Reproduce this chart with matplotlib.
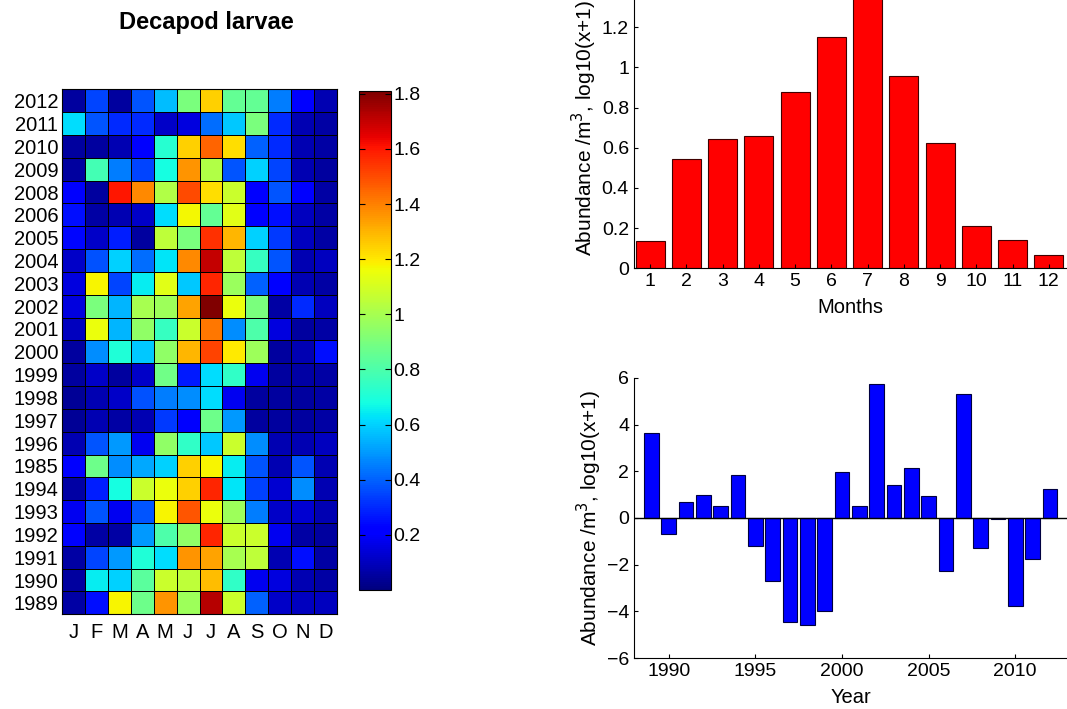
import numpy as np
import matplotlib.pyplot as plt
from matplotlib.ticker import FuncFormatter

plt.rcParams['font.family'] = ['Liberation Sans', 'DejaVu Sans']

# heatmap rows, top to bottom (labels kept as printed, incl. "1985")
years = ['2012', '2011', '2010', '2009', '2008', '2006', '2005', '2004', '2003',
         '2002', '2001', '2000', '1999', '1998', '1997', '1996', '1985', '1994',
         '1993', '1992', '1991', '1990', '1989']
month_letters = ['J', 'F', 'M', 'A', 'M', 'J', 'J', 'A', 'S', 'O', 'N', 'D']

abund = np.array([
    [0.05, 0.35, 0.05, 0.38, 0.56, 0.90, 1.25, 0.85, 0.85, 0.45, 0.22, 0.08],  # 2012
    [0.62, 0.38, 0.30, 0.30, 0.12, 0.15, 0.42, 0.58, 0.90, 0.30, 0.08, 0.06],  # 2011
    [0.05, 0.05, 0.08, 0.22, 0.72, 1.25, 1.45, 1.22, 0.40, 0.30, 0.08, 0.06],  # 2010
    [0.05, 0.78, 0.45, 0.35, 0.68, 1.36, 1.02, 0.38, 0.60, 0.35, 0.08, 0.05],  # 2009
    [0.22, 0.05, 1.60, 1.38, 1.02, 1.50, 1.22, 1.08, 0.22, 0.38, 0.22, 0.06],  # 2008
    [0.25, 0.06, 0.08, 0.12, 0.62, 1.17, 0.85, 1.13, 0.22, 0.25, 0.10, 0.06],  # 2006
    [0.24, 0.12, 0.28, 0.05, 1.05, 0.90, 1.55, 1.30, 0.60, 0.33, 0.10, 0.06],  # 2005
    [0.12, 0.37, 0.60, 0.42, 0.63, 1.38, 1.70, 1.05, 0.75, 0.38, 0.08, 0.10],  # 2004
    [0.15, 1.18, 0.35, 0.65, 1.13, 0.58, 1.57, 0.97, 0.40, 0.20, 0.08, 0.06],  # 2003
    [0.15, 0.90, 0.55, 1.00, 0.98, 1.33, 1.81, 1.15, 0.90, 0.06, 0.30, 0.10],  # 2002
    [0.10, 1.15, 0.55, 0.95, 0.75, 1.08, 1.42, 0.48, 0.80, 0.15, 0.05, 0.06],  # 2001
    [0.05, 0.48, 0.70, 0.58, 0.95, 1.30, 1.52, 1.20, 0.98, 0.05, 0.08, 0.25],  # 2000
    [0.05, 0.12, 0.05, 0.12, 0.88, 0.27, 0.62, 0.74, 0.18, 0.05, 0.06, 0.06],  # 1999
    [0.04, 0.08, 0.12, 0.37, 0.45, 0.48, 0.62, 0.18, 0.05, 0.05, 0.05, 0.06],  # 1998
    [0.04, 0.08, 0.06, 0.08, 0.33, 0.22, 0.87, 0.50, 0.05, 0.05, 0.05, 0.06],  # 1997
    [0.08, 0.38, 0.50, 0.18, 0.95, 0.74, 0.58, 1.08, 0.48, 0.08, 0.08, 0.10],  # 1996
    [0.22, 0.87, 0.48, 0.53, 0.60, 1.25, 1.18, 0.65, 0.38, 0.08, 0.38, 0.08],  # 1985
    [0.06, 0.28, 0.68, 1.08, 1.15, 1.25, 1.57, 0.63, 0.34, 0.13, 0.48, 0.08],  # 1994
    [0.18, 0.38, 0.18, 0.38, 1.18, 1.48, 1.15, 0.98, 0.45, 0.12, 0.13, 0.08],  # 1993
    [0.23, 0.06, 0.06, 0.50, 0.80, 0.95, 1.57, 1.08, 1.08, 0.18, 0.06, 0.05],  # 1992
    [0.06, 0.35, 0.50, 0.70, 0.62, 1.36, 1.33, 1.00, 1.05, 0.08, 0.25, 0.06],  # 1991
    [0.05, 0.65, 0.60, 0.83, 1.08, 1.05, 1.28, 0.74, 0.18, 0.15, 0.08, 0.06],  # 1990
    [0.06, 0.25, 1.18, 0.87, 1.36, 0.98, 1.72, 1.08, 0.40, 0.12, 0.10, 0.10],  # 1989
])

# monthly mean bar chart
months = np.arange(1, 13)
month_mean = [0.136, 0.543, 0.646, 0.657, 0.88, 1.153, 1.38, 0.958, 0.622, 0.211, 0.143, 0.066]

# yearly anomaly bar chart
anom_years = np.arange(1989, 2013)
anomaly = [3.65, -0.7, 0.68, 0.98, 0.5, 1.85, -1.2, -2.68, -4.45, -4.6, -4.0, 1.95,
           0.5, 5.75, 1.4, 2.15, 0.93, -2.28, 5.3, -1.3, -0.05, -3.75, -1.75, 1.25]

fs = 14
ylab = 'Abundance /m$^3$, log10(x+1)'

fig = plt.figure(figsize=(10.67, 7.09), dpi=100)
gfmt = FuncFormatter(lambda v, p: '%g' % round(v, 2))

# --- heatmap ---
ax = fig.add_axes([0.0584, 0.1336, 0.2572, 0.7404])
mesh = ax.pcolormesh(abund, cmap='jet', vmin=0.0, vmax=1.81,
                     edgecolors='k', linewidth=0.6)
ax.set_xlim(0, 12)
ax.set_ylim(len(years), 0)
ax.set_yticks(np.arange(len(years)) + 0.5)
ax.set_yticklabels(years, fontsize=14.5)
ax.set_xticks(np.arange(12) + 0.5)
ax.set_xticklabels(month_letters, fontsize=14.5)
ax.tick_params(length=0, pad=3)
ax.tick_params(axis='x', pad=6)
fig.text(0.193, 0.968, 'Decapod larvae', ha='center', va='center',
         fontsize=17, fontweight='bold')

cax = fig.add_axes([0.3365, 0.1678, 0.0297, 0.7038])
cb = fig.colorbar(mesh, cax=cax)
cb.set_ticks([0.2, 0.4, 0.6, 0.8, 1.0, 1.2, 1.4, 1.6, 1.8])
cb.ax.yaxis.set_major_formatter(gfmt)
cb.ax.tick_params(labelsize=fs, direction='in', length=4, left=True, pad=2)
cb.outline.set_linewidth(0.8)

# --- monthly bars ---
ax1 = fig.add_axes([0.594, 0.6216, 0.406, 0.3965])
ax1.bar(months, month_mean, width=0.8, color=(1, 0, 0), edgecolor='#400000', linewidth=0.8)
ax1.set_xlim(0.55, 12.5)
ax1.set_ylim(0, 1.4)
ax1.set_xticks(months)
ax1.set_yticks(np.arange(0, 1.21, 0.2))
ax1.yaxis.set_major_formatter(gfmt)
ax1.tick_params(labelsize=fs, direction='in', length=3)
ax1.set_xlabel('Months', fontsize=14.5, labelpad=6)
ax1.set_ylabel(ylab, fontsize=15, labelpad=2)
for s in ['top', 'right']:
    ax1.spines[s].set_visible(False)

# --- yearly anomaly bars ---
ax2 = fig.add_axes([0.5942, 0.0719, 0.406, 0.395])
ax2.bar(anom_years, anomaly, width=0.85, color=(0, 0, 1), edgecolor='#000040', linewidth=0.8)
ax2.axhline(0, color='k', linewidth=1)
ax2.set_xlim(1988, 2013)
ax2.set_ylim(-6, 6)
ax2.set_xticks([1990, 1995, 2000, 2005, 2010])
ax2.set_yticks([-6, -4, -2, 0, 2, 4, 6])
ax2.tick_params(labelsize=fs, direction='in', length=3)
ax2.set_xlabel('Year', fontsize=14.5, labelpad=6)
ax2.set_ylabel(ylab, fontsize=15, labelpad=2)
for s in ['top', 'right']:
    ax2.spines[s].set_visible(False)

fig.savefig('out.png', dpi=100)
